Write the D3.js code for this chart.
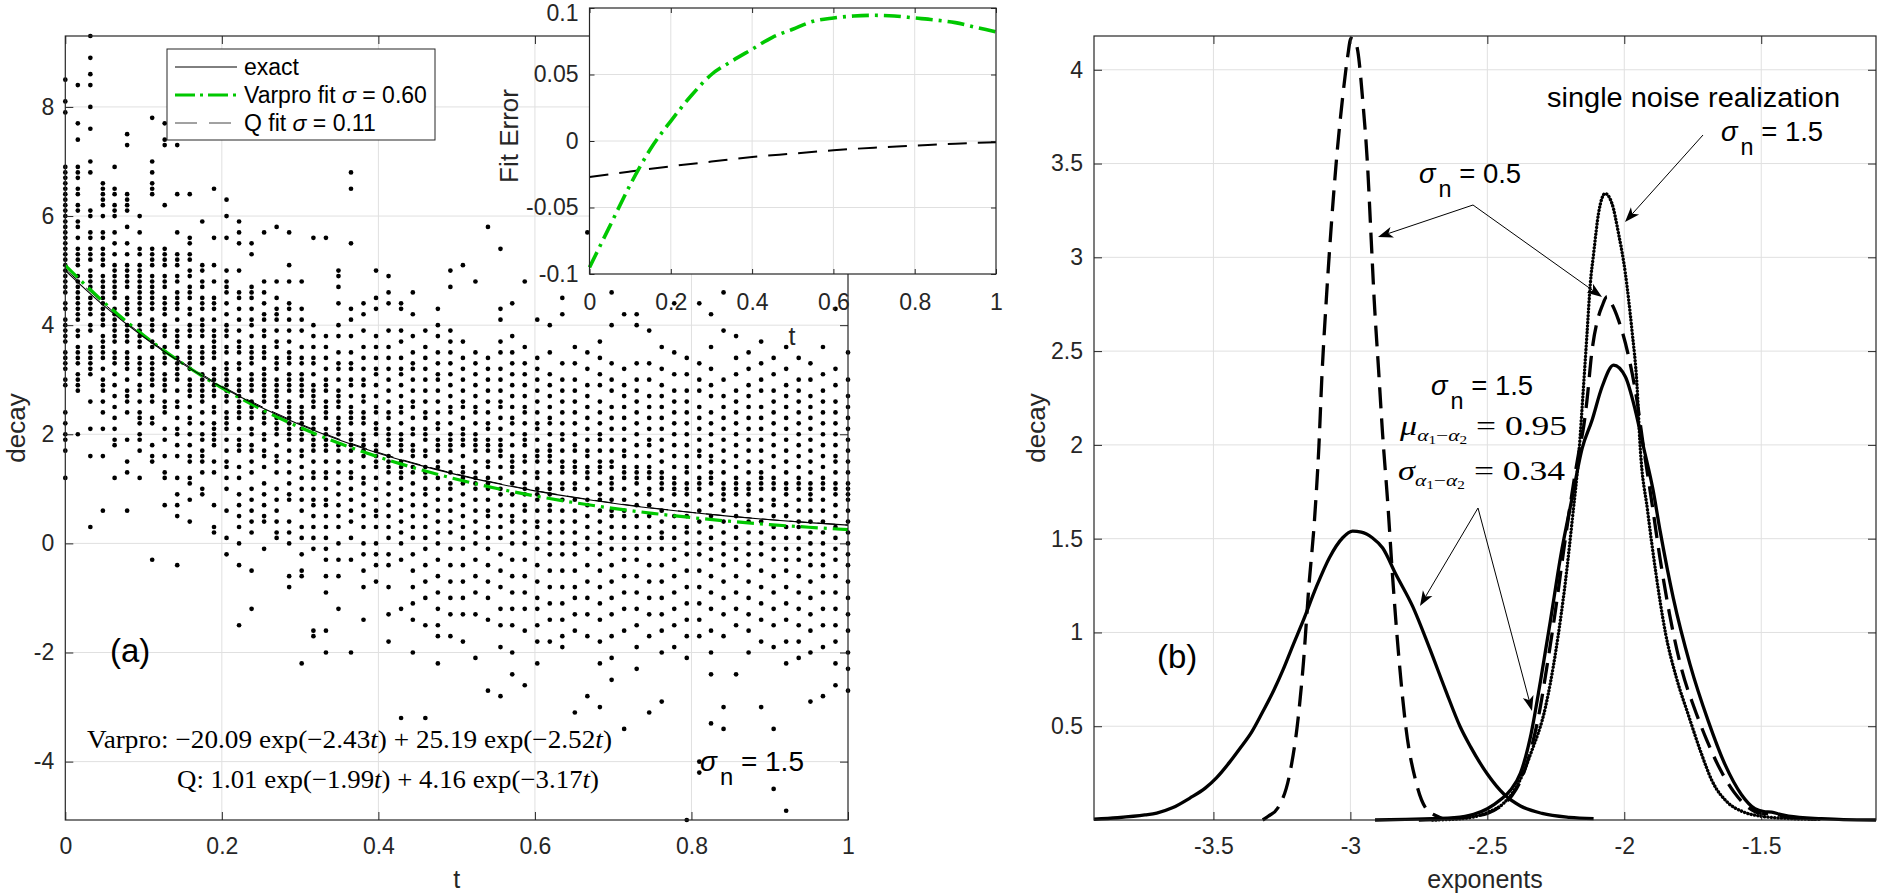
<!DOCTYPE html>
<html><head><meta charset="utf-8">
<script src="https://cdn.jsdelivr.net/npm/d3@7"></script>
<style>
body{margin:0;background:#fff}
svg{display:block}
text{font-family:"Liberation Sans",Arial,Helvetica,sans-serif}
</style></head>
<body><svg id="c" width="1880" height="896"></svg>
<script>
// ---------------- DATA ----------------
const aXTicks = [0, 0.2, 0.4, 0.6, 0.8, 1];
const aYTicks = [-4, -2, 0, 2, 4, 6, 8];
const insetXTicks = [0, 0.2, 0.4, 0.6, 0.8, 1];
const insetYTicks = [-0.1, -0.05, 0, 0.05, 0.1];
const bXTicks = [-3.5, -3, -2.5, -2, -1.5];
const bYTicks = [0.5, 1, 1.5, 2, 2.5, 3, 3.5, 4];

// sample times of the noisy data (columns)
const sampleT = [0,0.016,0.032,0.048,0.063,0.079,0.095,0.111,0.127,0.143,0.159,0.175,0.190,0.206,0.222,0.238,0.254,0.270,0.286,0.302,0.317,0.333,0.349,0.365,0.381,0.397,0.413,0.429,0.444,0.460,0.476,0.492,0.508,0.524,0.540,0.556,0.571,0.587,0.603,0.619,0.635,0.651,0.667,0.683,0.698,0.714,0.730,0.746,0.762,0.778,0.794,0.810,0.825,0.841,0.857,0.873,0.889,0.905,0.921,0.937,0.952,0.968,0.984,1];
// noisy decay values per sample time
const noisyDecay = [
[8.5,8.1,7.9,6.9,6.8,6.7,6.6,6.5,6.4,6.3,6.2,6.1,6.0,5.9,5.8,5.7,5.6,5.5,5.4,5.3,5.2,5.1,5.0,4.9,4.8,4.7,4.6,4.4,4.3,4.1,4.0,3.9,3.8,3.7,3.5,3.4,3.3,3.2,3.0,2.9,2.4,2.2,2.0,1.9,1.7,1.2],
[8.4,7.7,7.4,6.9,6.8,6.7,6.5,6.4,6.2,6.1,5.9,5.8,5.6,5.4,5.3,5.2,5.1,4.9,4.8,4.7,4.6,4.5,4.4,4.3,4.2,4.1,3.9,3.8,3.6,3.5,3.4,3.3,3.1,3.0,2.9,2.8,2.0],
[9.3,8.9,8.6,8.4,8.0,7.6,7.0,6.8,6.1,6.0,5.7,5.6,5.4,5.3,5.2,5.0,4.9,4.8,4.7,4.5,4.4,4.3,4.2,4.0,3.9,3.6,3.5,3.4,3.3,3.2,3.1,2.6,2.1,1.6,0.3],
[6.6,6.5,6.4,6.3,6.2,6.0,5.7,5.6,5.4,5.3,5.2,5.1,4.9,4.8,4.7,4.6,4.5,4.4,4.3,4.2,4.1,4.0,3.8,3.7,3.6,3.5,3.4,3.2,3.0,2.9,2.8,2.6,2.4,2.1,1.6,0.6],
[6.9,6.5,6.4,6.2,6.1,6.0,5.7,5.5,5.3,5.1,5.0,4.9,4.8,4.7,4.6,4.5,4.3,4.2,4.1,4.0,3.9,3.8,3.7,3.5,3.4,3.3,3.1,2.9,2.7,2.5,2.3,2.1,1.9,1.8,1.2],
[7.5,7.3,6.4,6.3,6.2,6.1,5.8,5.5,5.3,5.1,5.0,4.9,4.8,4.7,4.5,4.4,4.3,4.2,4.0,3.9,3.8,3.7,3.5,3.4,3.3,3.2,3.0,2.8,2.7,2.6,2.4,1.9,1.5,1.3,0.6],
[6.0,5.7,5.4,5.3,5.1,5.0,4.9,4.8,4.7,4.6,4.5,4.4,4.3,4.2,4.0,3.9,3.8,3.7,3.6,3.4,3.3,3.2,3.1,2.9,2.8,2.6,2.4,2.3,2.2,2.0,1.9,1.7,1.2],
[7.8,7.0,6.8,6.6,6.5,6.4,5.4,5.3,5.2,5.1,4.9,4.8,4.7,4.6,4.5,4.4,4.3,4.1,4.0,3.9,3.7,3.6,3.4,3.3,3.2,3.1,3.0,2.9,2.7,2.6,2.3,2.2,1.8,1.6,1.5,-0.3],
[7.7,7.4,7.3,6.2,5.4,5.3,5.2,5.1,4.9,4.8,4.7,4.5,4.4,4.3,4.2,4.0,3.9,3.8,3.6,3.5,3.4,3.3,3.1,3.0,2.9,2.8,2.6,2.5,2.4,2.1,1.9,1.6,1.3,1.2,0.7],
[7.3,6.4,5.7,5.3,5.2,5.1,4.9,4.8,4.6,4.5,4.4,4.3,4.1,3.9,3.8,3.7,3.6,3.4,3.3,3.2,3.1,3.0,2.8,2.6,2.5,2.3,2.1,2.0,1.8,1.6,1.2,0.9,0.7,0.5,-0.4],
[6.4,5.6,5.5,5.3,5.2,5.0,4.9,4.7,4.6,4.5,4.3,4.2,4.0,3.9,3.8,3.6,3.5,3.4,3.3,3.2,3.0,2.9,2.8,2.7,2.5,2.3,2.2,2.0,1.8,1.6,1.5,1.2,1.1,0.8,0.4],
[5.9,5.1,5.0,4.8,4.7,4.5,4.4,4.3,4.1,4.0,3.9,3.8,3.6,3.5,3.4,3.3,3.1,3.0,2.9,2.8,2.7,2.6,2.4,2.2,2.0,1.9,1.7,1.6,1.5,1.3,1.0,0.9],
[6.5,5.6,5.1,4.8,4.5,4.4,4.3,4.1,3.9,3.8,3.7,3.6,3.5,3.4,3.2,3.1,3.0,2.9,2.8,2.7,2.5,2.4,2.2,2.1,2.0,1.9,1.8,1.5,1.3,0.7,0.3,0.2],
[6.3,6.0,5.6,5.0,4.8,4.7,4.6,4.4,4.2,4.0,3.9,3.8,3.6,3.5,3.3,3.2,3.1,3.0,2.9,2.8,2.7,2.6,2.4,2.3,2.2,2.1,1.9,1.7,1.5,1.4,1.2,1.0,0.6,0.1,-0.2],
[5.9,5.7,5.5,5.0,4.6,4.5,4.3,4.1,3.9,3.7,3.6,3.5,3.3,3.2,3.0,2.9,2.8,2.7,2.6,2.5,2.4,2.3,2.1,1.9,1.8,1.7,1.4,1.2,0.9,0.7,0.5,0.3,0.0,-0.4,-1.5],
[5.5,5.3,4.7,4.6,4.5,4.3,4.1,4.0,3.8,3.6,3.5,3.4,3.3,3.1,3.0,2.9,2.8,2.6,2.5,2.4,2.3,2.1,2.0,1.8,1.7,1.5,1.3,1.0,0.8,0.6,0.4,0.2,-0.5,-1.2],
[5.7,4.8,4.6,4.4,4.2,4.1,3.9,3.8,3.6,3.5,3.4,3.2,3.1,3.0,2.9,2.8,2.7,2.6,2.4,2.3,2.2,2.0,1.9,1.7,1.6,1.4,1.1,0.9,0.7,0.5,0.4,-0.1],
[5.8,4.8,4.5,4.3,4.2,4.1,3.9,3.7,3.6,3.4,3.3,3.2,3.0,2.9,2.8,2.7,2.6,2.5,2.3,2.2,2.1,2.0,1.8,1.6,1.5,1.3,1.0,0.8,0.6,0.4,0.2,0.1],
[5.7,5.1,4.8,4.4,4.3,4.1,3.9,3.7,3.5,3.4,3.3,3.1,3.0,2.9,2.8,2.6,2.5,2.4,2.3,2.2,2.1,2.0,1.9,1.7,1.5,1.3,1.1,0.9,0.8,0.4,0.2,0.0,-0.6,-0.8],
[4.8,4.3,4.1,3.9,3.6,3.4,3.3,3.1,3.0,2.9,2.8,2.7,2.5,2.4,2.3,2.2,2.1,2.0,1.9,1.7,1.6,1.4,1.2,1.0,0.8,0.6,0.3,0.1,-0.2,-0.5,-0.6,-2.2],
[5.6,4.0,3.8,3.6,3.4,3.3,3.1,2.9,2.8,2.7,2.6,2.5,2.3,2.2,2.1,2.0,1.9,1.8,1.7,1.5,1.3,1.2,1.0,0.8,0.7,0.5,0.3,0.1,-0.1,-1.6,-1.7],
[5.6,3.8,3.6,3.4,3.2,3.0,2.9,2.8,2.6,2.5,2.4,2.3,2.1,2.0,1.9,1.8,1.7,1.5,1.3,1.2,1.0,0.8,0.7,0.5,0.3,0.1,-0.1,-0.3,-0.6,-0.9,-1.6,-2.0],
[5.0,4.9,4.7,4.4,4.0,3.8,3.5,3.3,3.2,3.0,2.8,2.7,2.6,2.5,2.3,2.2,2.1,2.0,1.8,1.7,1.5,1.3,1.1,0.9,0.7,0.5,0.3,0.0,-0.3,-0.6,-1.2],
[6.8,6.5,5.5,4.3,4.1,3.8,3.5,3.3,3.2,3.0,2.9,2.7,2.5,2.4,2.3,2.2,2.0,1.9,1.8,1.7,1.5,1.3,1.2,1.0,0.8,0.6,0.4,0.1,-0.3,-2.0],
[4.4,4.2,3.9,3.6,3.4,3.2,3.0,2.9,2.7,2.6,2.4,2.3,2.2,2.0,1.9,1.8,1.7,1.6,1.4,1.2,1.1,0.9,0.7,0.5,0.3,0.0,-0.2,-0.5,-0.8,-1.4],
[5.0,4.5,4.3,3.8,3.6,3.4,3.2,3.1,2.9,2.7,2.5,2.4,2.2,2.1,2.0,1.8,1.7,1.6,1.5,1.4,1.2,1.0,0.8,0.6,0.5,0.3,0.0,-0.2,-0.4,-0.7],
[4.9,4.6,4.4,3.9,3.6,3.4,3.2,3.0,2.8,2.6,2.4,2.3,2.1,2.0,1.9,1.8,1.6,1.5,1.4,1.3,1.1,0.9,0.7,0.5,0.3,0.1,-0.2,-0.4,-0.8,-1.3,-1.8],
[4.4,4.3,3.9,3.7,3.4,3.2,3.1,2.9,2.7,2.5,2.4,2.2,2.0,1.9,1.8,1.7,1.5,1.4,1.3,1.2,1.0,0.8,0.6,0.4,0.2,0.0,-0.3,-1.2,-3.2],
[4.6,4.2,3.8,3.5,3.3,3.2,3.0,2.8,2.6,2.5,2.3,2.1,2.0,1.8,1.7,1.6,1.4,1.3,1.1,0.9,0.7,0.5,0.3,0.1,-0.2,-0.5,-0.8,-1.1,-1.4,-2.0],
[3.9,3.6,3.4,3.2,3.0,2.8,2.6,2.4,2.3,2.1,2.0,1.9,1.7,1.6,1.4,1.3,1.2,1.0,0.9,0.7,0.5,0.3,0.1,-0.1,-0.4,-0.7,-1.0,-1.5,-3.2],
[4.3,4.0,3.8,3.5,3.3,3.1,3.0,2.8,2.6,2.4,2.2,2.1,1.9,1.8,1.7,1.5,1.4,1.2,1.0,0.8,0.6,0.4,0.2,0.0,-0.3,-0.6,-0.9,-1.2,-1.5,-1.7,-2.2],
[5.0,4.7,3.9,3.7,3.5,3.3,3.1,2.9,2.7,2.5,2.4,2.2,2.0,1.9,1.8,1.7,1.5,1.3,1.1,1.0,0.8,0.6,0.4,0.2,-0.1,-0.4,-0.7,-1.0,-1.3,-1.7],
[5.1,3.7,3.4,3.2,3.0,2.8,2.6,2.5,2.3,2.1,2.0,1.9,1.8,1.6,1.4,1.3,1.2,1.1,0.9,0.7,0.5,0.3,0.1,-0.1,-0.4,-0.7,-1.0,-1.3,-1.8],
[4.8,3.5,3.3,3.1,2.9,2.7,2.5,2.4,2.2,2.0,1.9,1.8,1.7,1.5,1.3,1.2,1.1,1.0,0.8,0.6,0.4,0.2,0.0,-0.3,-0.6,-0.9,-1.3,-2.1],
[5.8,3.4,3.2,3.0,2.8,2.6,2.4,2.2,2.1,1.9,1.8,1.7,1.5,1.4,1.2,1.1,1.0,0.8,0.6,0.5,0.3,0.1,-0.1,-0.4,-0.7,-1.0,-1.4,-2.7],
[5.4,4.3,4.1,3.7,3.5,3.2,3.0,2.8,2.6,2.5,2.3,2.1,1.9,1.8,1.7,1.6,1.4,1.2,1.0,0.9,0.7,0.5,0.3,0.1,-0.2,-0.5,-0.8,-1.2,-1.5,-1.9,-2.8],
[4.4,3.8,3.5,3.3,3.1,2.9,2.7,2.5,2.3,2.2,2.0,1.8,1.6,1.5,1.4,1.3,1.1,0.9,0.7,0.5,0.4,0.2,0.0,-0.3,-0.6,-0.9,-1.2,-1.5,-2.0,-2.4],
[4.8,3.6,3.3,3.1,2.9,2.7,2.5,2.4,2.2,2.0,1.9,1.8,1.6,1.5,1.3,1.1,1.0,0.9,0.7,0.6,0.4,0.2,0.0,-0.3,-0.6,-0.9,-1.2,-1.6,-2.6],
[4.1,3.4,3.2,3.0,2.8,2.6,2.4,2.2,2.1,1.9,1.7,1.6,1.5,1.3,1.2,1.0,0.9,0.8,0.6,0.4,0.3,0.1,-0.1,-0.4,-0.7,-1.0,-1.2,-1.5,-1.8,-2.2],
[4.0,3.5,3.1,2.9,2.7,2.5,2.3,2.2,2.0,1.8,1.7,1.6,1.5,1.3,1.1,1.0,0.9,0.7,0.6,0.4,0.2,0.0,-0.2,-0.5,-0.8,-1.1,-1.4,-1.8],
[4.5,4.2,3.3,3.0,2.8,2.6,2.4,2.2,2.0,1.9,1.7,1.5,1.4,1.3,1.1,1.0,0.8,0.6,0.4,0.2,0.0,-0.2,-0.5,-0.8,-1.1,-1.4,-1.7,-1.9],
[3.6,3.3,3.0,2.8,2.6,2.4,2.2,2.0,1.8,1.7,1.5,1.4,1.3,1.1,1.0,0.8,0.6,0.4,0.2,0.0,-0.2,-0.5,-0.8,-1.0,-1.3,-1.6,-3.1],
[5.7,3.5,3.2,2.9,2.7,2.5,2.3,2.1,1.9,1.7,1.6,1.4,1.3,1.2,1.0,0.8,0.7,0.5,0.3,0.1,-0.1,-0.4,-0.7,-1.0,-1.3,-1.7,-2.8],
[3.7,3.4,3.1,2.9,2.6,2.4,2.2,2.0,1.9,1.7,1.5,1.4,1.3,1.1,0.9,0.8,0.6,0.4,0.2,0.0,-0.2,-0.5,-0.8,-1.1,-1.4,-1.8,-2.2,-3.0],
[4.6,4.0,3.3,3.0,2.8,2.5,2.3,2.1,1.9,1.7,1.5,1.4,1.2,1.1,1.0,0.8,0.6,0.5,0.3,0.1,-0.1,-0.4,-0.7,-1.0,-1.3,-1.7,-2.1,-2.5],
[4.2,3.2,2.9,2.7,2.5,2.3,2.1,1.9,1.7,1.6,1.4,1.3,1.2,1.0,0.8,0.6,0.5,0.3,0.1,-0.1,-0.3,-0.6,-0.9,-1.2,-1.6,-3.4],
[4.2,4.0,3.3,3.0,2.8,2.6,2.4,2.2,2.0,1.8,1.6,1.4,1.3,1.2,1.1,0.9,0.7,0.5,0.3,0.1,-0.1,-0.3,-0.6,-0.9,-1.2,-1.5,-1.9,-2.3],
[3.9,3.3,3.0,2.7,2.5,2.3,2.1,1.9,1.8,1.6,1.4,1.3,1.2,1.0,0.9,0.7,0.5,0.3,0.1,-0.1,-0.4,-0.7,-1.0,-1.3,-1.7,-3.1],
[3.6,3.2,2.9,2.7,2.5,2.3,2.1,1.9,1.7,1.5,1.3,1.2,1.1,1.0,0.8,0.6,0.4,0.2,0.1,-0.1,-0.4,-0.7,-1.0,-1.3,-1.6,-2.0,-2.9],
[4.4,3.5,3.1,2.8,2.6,2.4,2.2,2.0,1.8,1.6,1.4,1.2,1.1,1.0,0.9,0.7,0.5,0.3,0.1,-0.1,-0.3,-0.6,-0.9,-1.2,-1.5,-1.9],
[3.4,3.1,2.8,2.6,2.4,2.2,2.0,1.8,1.6,1.4,1.3,1.1,1.0,0.9,0.7,0.5,0.3,0.2,0.0,-0.2,-0.5,-0.8,-1.1,-1.4,-1.7,-2.1,-5.07],
[4.4,3.3,3.0,2.8,2.5,2.3,2.1,1.9,1.7,1.6,1.4,1.2,1.1,1.0,0.8,0.6,0.4,0.2,0.0,-0.2,-0.5,-0.8,-1.1,-1.4,-1.7,-4.0,-4.2],
[4.2,3.6,3.2,2.9,2.7,2.4,2.2,2.0,1.8,1.6,1.5,1.3,1.2,1.1,0.9,0.7,0.5,0.3,0.1,-0.1,-0.3,-0.6,-0.9,-1.2,-1.6,-2.0,-2.4,-3.3],
[4.6,3.9,3.0,2.7,2.5,2.3,2.1,1.9,1.7,1.5,1.3,1.1,1.0,0.9,0.8,0.6,0.4,0.2,0.0,-0.2,-0.4,-0.7,-1.0,-1.3,-1.7,-3.0,-3.4],
[3.8,3.4,3.1,2.8,2.6,2.4,2.2,2.0,1.8,1.6,1.4,1.2,1.1,1.0,0.9,0.7,0.5,0.3,0.1,-0.1,-0.3,-0.6,-0.9,-1.2,-1.5,-2.4],
[3.5,3.2,2.9,2.7,2.5,2.3,2.1,1.9,1.7,1.5,1.3,1.1,1.0,0.9,0.7,0.6,0.4,0.2,0.0,-0.2,-0.4,-0.7,-1.0,-1.3,-1.6,-2.0],
[3.7,3.3,3.0,2.8,2.5,2.3,2.1,1.9,1.7,1.5,1.3,1.2,1.1,1.0,0.8,0.6,0.4,0.2,0.0,-0.2,-0.5,-0.8,-1.1,-1.4,-1.8,-3.0],
[3.4,3.1,2.8,2.6,2.4,2.2,2.0,1.8,1.6,1.4,1.2,1.1,1.0,0.8,0.7,0.5,0.3,0.1,-0.1,-0.3,-0.6,-0.9,-1.2,-1.5,-1.9,-3.4,-4.5],
[3.6,3.2,2.9,2.7,2.5,2.3,2.1,1.9,1.7,1.5,1.3,1.1,1.0,0.9,0.7,0.5,0.3,0.1,-0.1,-0.3,-0.5,-0.8,-1.1,-1.4,-1.8,-2.2,-4.9],
[3.4,3.0,2.8,2.6,2.4,2.2,2.0,1.8,1.6,1.4,1.2,1.1,1.0,0.8,0.6,0.4,0.3,0.1,-0.1,-0.3,-0.6,-0.9,-1.2,-1.5,-1.8,-2.1],
[3.3,3.0,2.7,2.5,2.3,2.1,1.9,1.7,1.5,1.3,1.1,1.0,0.9,0.8,0.6,0.4,0.2,0.0,-0.2,-0.4,-0.7,-1.0,-1.3,-1.6,-2.0,-2.9],
[3.6,3.1,2.8,2.6,2.4,2.2,2.0,1.8,1.6,1.4,1.2,1.1,1.0,0.8,0.6,0.4,0.2,0.0,-0.2,-0.4,-0.6,-0.9,-1.2,-1.5,-1.9,-2.8],
[4.3,3.2,2.9,2.6,2.4,2.2,2.0,1.8,1.6,1.5,1.3,1.1,1.0,0.9,0.7,0.5,0.3,0.1,-0.1,-0.3,-0.6,-0.9,-1.2,-1.5,-1.8,-2.2,-2.6],
[3.5,3.0,2.7,2.5,2.3,2.1,1.9,1.7,1.5,1.3,1.1,1.0,0.9,0.8,0.6,0.4,0.2,0.0,-0.2,-0.4,-0.7,-1.0,-1.3,-1.6,-2.0,-2.3,-2.7]
];

// fitted curves (main panel)
const curveT = [0,0.05,0.1,0.15,0.2,0.25,0.3,0.35,0.4,0.45,0.5,0.55,0.6,0.65,0.7,0.75,0.8,0.85,0.9,0.95,1];
const exactDecay = [5.000,4.348,3.782,3.291,2.866,2.496,2.175,1.896,1.654,1.444,1.260,1.101,0.962,0.842,0.736,0.645,0.565,0.495,0.434,0.381,0.334];
const varproDecay = [5.095,4.412,3.815,3.297,2.851,2.462,2.125,1.836,1.585,1.366,1.176,1.011,0.870,0.748,0.642,0.551,0.473,0.404,0.345,0.296,0.252];
const qT = [0,0.1,0.2,0.3,0.4,0.5,0.6,0.7,0.8,0.9,1];
const qDecay = [5.027,3.805,2.885,2.191,1.666,1.270,0.969,0.741,0.569,0.436,0.335];
// inset: fit errors
const varproErr = [-0.095,-0.064,-0.033,-0.006,0.015,0.034,0.050,0.060,0.069,0.078,0.084,0.090,0.0925,0.094,0.0945,0.094,0.0925,0.091,0.089,0.0855,0.082];
const qErr = [-0.027,-0.023,-0.019,-0.0155,-0.012,-0.0095,-0.007,-0.005,-0.0035,-0.002,-0.001];

// panel (b) density curves [exponent, density]
const wide15 = [[-3.936,0.004],[-3.85,0.012],[-3.75,0.027],[-3.707,0.037],[-3.65,0.065],[-3.586,0.117],[-3.53,0.17],[-3.489,0.225],[-3.44,0.31],[-3.404,0.38],[-3.36,0.47],[-3.319,0.58],[-3.28,0.69],[-3.246,0.8],[-3.21,0.93],[-3.173,1.06],[-3.125,1.24],[-3.076,1.40],[-3.028,1.505],[-2.992,1.54],[-2.96,1.535],[-2.92,1.505],[-2.882,1.45],[-2.834,1.31],[-2.773,1.14],[-2.712,0.92],[-2.652,0.69],[-2.6,0.5],[-2.561,0.39],[-2.5,0.245],[-2.439,0.137],[-2.379,0.075],[-2.3,0.035],[-2.2,0.014],[-2.112,0.007]];
const tall05 = [[-3.32,0.0],[-3.30,0.02],[-3.265,0.064],[-3.222,0.242],[-3.192,0.526],[-3.171,0.846],[-3.152,1.237],[-3.131,1.6],[-3.115,1.99],[-3.104,2.363],[-3.088,2.772],[-3.070,3.163],[-3.052,3.50],[-3.028,3.856],[-3.01,4.07],[-2.998,4.167],[-2.985,4.16],[-2.973,4.10],[-2.955,3.838],[-2.937,3.482],[-2.925,3.127],[-2.913,2.772],[-2.897,2.4],[-2.882,2.05],[-2.864,1.7],[-2.846,1.3],[-2.822,0.85],[-2.797,0.49],[-2.761,0.206],[-2.725,0.064],[-2.683,0.02],[-2.66,0.005]];
const right15 = [[-2.91,0.0],[-2.8,0.003],[-2.7,0.007],[-2.62,0.012],[-2.55,0.03],[-2.5,0.06],[-2.45,0.11],[-2.415,0.16],[-2.379,0.25],[-2.343,0.44],[-2.306,0.74],[-2.27,1.06],[-2.233,1.4],[-2.19,1.72],[-2.154,1.98],[-2.118,2.13],[-2.081,2.31],[-2.039,2.425],[-1.996,2.363],[-1.96,2.186],[-1.93,1.99],[-1.895,1.76],[-1.869,1.54],[-1.821,1.183],[-1.76,0.83],[-1.693,0.526],[-1.632,0.295],[-1.572,0.135],[-1.523,0.06],[-1.49,0.045],[-1.462,0.042],[-1.43,0.03],[-1.40,0.02],[-1.28,0.007],[-1.2,0.002],[-1.081,0.0]];
const right05 = [[-2.75,0.0],[-2.65,0.006],[-2.55,0.02],[-2.5,0.035],[-2.45,0.075],[-2.41,0.13],[-2.37,0.24],[-2.34,0.38],[-2.312,0.56],[-2.28,0.84],[-2.25,1.13],[-2.22,1.45],[-2.19,1.75],[-2.165,1.97],[-2.148,2.1],[-2.136,2.24],[-2.118,2.5],[-2.095,2.68],[-2.081,2.74],[-2.063,2.79],[-2.045,2.75],[-2.021,2.665],[-1.984,2.47],[-1.954,2.24],[-1.93,1.99],[-1.90,1.70],[-1.87,1.40],[-1.835,1.10],[-1.79,0.80],[-1.745,0.60],[-1.70,0.43],[-1.65,0.27],[-1.60,0.15],[-1.55,0.07],[-1.5,0.035],[-1.45,0.03],[-1.4,0.015],[-1.3,0.004]];
const single15 = [[-2.7,0.0],[-2.6,0.006],[-2.5,0.04],[-2.44,0.09],[-2.385,0.2],[-2.34,0.36],[-2.288,0.6],[-2.25,0.9],[-2.215,1.27],[-2.19,1.6],[-2.166,1.95],[-2.148,2.33],[-2.136,2.594],[-2.124,2.86],[-2.112,3.02],[-2.094,3.234],[-2.07,3.34],[-2.045,3.287],[-2.021,3.127],[-1.996,2.914],[-1.972,2.612],[-1.954,2.328],[-1.942,1.99],[-1.915,1.65],[-1.885,1.32],[-1.85,1.0],[-1.81,0.76],[-1.766,0.56],[-1.72,0.36],[-1.68,0.21],[-1.62,0.09],[-1.57,0.046],[-1.5,0.02],[-1.4,0.008],[-1.28,0.003]];

// ---------------- DRAW ----------------
const svg = d3.select('#c');
const AX = '#262626', GRID = '#e0e0e0', GREEN = '#00c800';
const fmt = d => (d < 0 ? '-' : '') + Math.abs(d);

function drawGrid(g, xs, ys, xt, yt) {
  const [x0, x1] = xs.range(), [y0, y1] = ys.range();
  g.selectAll(null).data(xt).enter().append('line')
    .attr('x1', d => xs(d)).attr('x2', d => xs(d)).attr('y1', y0).attr('y2', y1)
    .attr('stroke', GRID).attr('stroke-width', 1);
  g.selectAll(null).data(yt).enter().append('line')
    .attr('y1', d => ys(d)).attr('y2', d => ys(d)).attr('x1', x0).attr('x2', x1)
    .attr('stroke', GRID).attr('stroke-width', 1);
}
function styleAxis(sel, fs) {
  sel.select('.domain').remove();
  sel.attr('font-size', null).attr('font-family', null);
  sel.selectAll('line').attr('stroke', AX).attr('stroke-width', 1);
  sel.selectAll('text').style('font-size', fs + 'px').attr('fill', AX);
}
function drawAxes(g, xs, ys, xt, yt, tl, padX, padY, fs) {
  const [x0, x1] = xs.range(), [y0, y1] = ys.range();
  g.append('g').attr('transform', `translate(0,${y0})`)
    .call(d3.axisBottom(xs).tickValues(xt).tickSizeInner(-tl).tickSizeOuter(0).tickPadding(padX).tickFormat(fmt))
    .call(s => styleAxis(s, fs));
  g.append('g').attr('transform', `translate(0,${y1})`)
    .call(d3.axisTop(xs).tickValues(xt).tickSizeInner(-tl).tickSizeOuter(0).tickFormat(''))
    .call(s => styleAxis(s, fs));
  const left = g.append('g').attr('transform', `translate(${x0},0)`)
    .call(d3.axisLeft(ys).tickValues(yt).tickSizeInner(-tl).tickSizeOuter(0).tickPadding(padY).tickFormat(fmt))
    .call(s => styleAxis(s, fs));
  g.append('g').attr('transform', `translate(${x1},0)`)
    .call(d3.axisRight(ys).tickValues(yt).tickSizeInner(-tl).tickSizeOuter(0).tickFormat(''))
    .call(s => styleAxis(s, fs));
  g.append('rect').attr('x', x0).attr('y', y1).attr('width', x1 - x0).attr('height', y0 - y1)
    .attr('fill', 'none').attr('stroke', AX).attr('stroke-width', 1.2);
  return left;
}
// rich text: segments {t, fs, it, sh (baseline shift, +down)}
function rich(g, x, y, segs, opts = {}) {
  const t = g.append('text').attr('x', x).attr('y', y).attr('fill', opts.fill || '#000');
  if (opts.serif) t.style('font-family', '"Liberation Serif","Times New Roman",serif');
  if (opts.anchor) t.attr('text-anchor', opts.anchor);
  let prev = 0;
  segs.forEach(s => {
    const sh = s.sh || 0;
    const ts = t.append('tspan').attr('dy', sh - prev).style('font-size', s.fs + 'px')
      .style('font-style', s.it ? 'italic' : 'normal').text(s.t);
    if (s.dx) ts.attr('dx', s.dx);
    prev = sh;
  });
  if (opts.len) t.attr('textLength', opts.len).attr('lengthAdjust', 'spacingAndGlyphs');
  return t;
}
function sigmaN(g, x, y, rest, fs) {
  return rich(g, x, y, [
    {t: 'σ', fs: fs, it: true},
    {t: 'n', fs: fs * 0.85, sh: fs * 0.5, dx: 3},
    {t: ' = ' + rest, fs: fs, sh: 0}
  ]);
}
function arrow(g, x1, y1, x2, y2) {
  const L = 15, W = 5.5, N = 4;
  const dx = x2 - x1, dy = y2 - y1, len = Math.hypot(dx, dy);
  const ux = dx / len, uy = dy / len, nx = -uy, ny = ux;
  const bx = x2 - L * ux, by = y2 - L * uy;
  const mx = x2 - (L - N) * ux, my = y2 - (L - N) * uy;
  g.append('line').attr('x1', x1).attr('y1', y1).attr('x2', mx).attr('y2', my)
    .attr('stroke', '#000').attr('stroke-width', 1);
  g.append('path').attr('d', `M${x2},${y2}L${bx + W * nx},${by + W * ny}L${mx},${my}L${bx - W * nx},${by - W * ny}Z`)
    .attr('fill', '#000');
}

// ===== Panel (a) =====
const ax = d3.scaleLinear().domain([0, 1]).range([65.3, 848]);
const ay = d3.scaleLinear().domain([-5.07, 9.3]).range([820, 36]);
const ga = svg.append('g');
drawGrid(ga, ax, ay, aXTicks.slice(1, -1), aYTicks);

const pts = [];
sampleT.forEach((t, i) => noisyDecay[i].forEach(v => pts.push([t, v])));
ga.append('g').selectAll('circle').data(pts).enter().append('circle')
  .attr('cx', d => ax(d[0])).attr('cy', d => ay(d[1])).attr('r', 2.35).attr('fill', '#000');

const lineA = d3.line().x(d => ax(d[0])).y(d => ay(d[1])).curve(d3.curveMonotoneX);
ga.append('path').attr('d', lineA(qT.map((t, i) => [t, qDecay[i]])))
  .attr('fill', 'none').attr('stroke', '#000').attr('stroke-width', 1).attr('stroke-dasharray', '18,10');
ga.append('path').attr('d', lineA(curveT.map((t, i) => [t, varproDecay[i]])))
  .attr('fill', 'none').attr('stroke', GREEN).attr('stroke-width', 3.2).attr('stroke-dasharray', '17,6,3,6');
ga.append('path').attr('d', lineA(curveT.map((t, i) => [t, exactDecay[i]])))
  .attr('fill', 'none').attr('stroke', '#000').attr('stroke-width', 1.1);

drawAxes(ga, ax, ay, aXTicks, aYTicks, 8, 18, 11, 23);
ga.append('text').attr('x', 456.7).attr('y', 888).attr('text-anchor', 'middle').style('font-size', '25px').attr('fill', AX).text('t');
ga.append('text').attr('transform', 'translate(25,428) rotate(-90)').attr('text-anchor', 'middle').style('font-size', '26px').attr('fill', AX).text('decay');

// legend
const lg = ga.append('g');
lg.append('rect').attr('x', 167).attr('y', 49).attr('width', 268).attr('height', 91).attr('fill', '#fff').attr('stroke', AX).attr('stroke-width', 1);
lg.append('line').attr('x1', 175).attr('x2', 237).attr('y1', 67).attr('y2', 67).attr('stroke', '#000').attr('stroke-width', 1);
lg.append('line').attr('x1', 175).attr('x2', 237).attr('y1', 95).attr('y2', 95).attr('stroke', GREEN).attr('stroke-width', 3.2).attr('stroke-dasharray', '20,5,3,5');
lg.append('line').attr('x1', 175).attr('x2', 237).attr('y1', 123).attr('y2', 123).attr('stroke', '#444').attr('stroke-width', 1).attr('stroke-dasharray', '22,12');
rich(lg, 244, 75, [{t: 'exact', fs: 23}]);
rich(lg, 244, 103, [{t: 'Varpro fit ', fs: 23}, {t: 'σ', fs: 23, it: true}, {t: ' = 0.60', fs: 23}]);
rich(lg, 244, 131, [{t: 'Q fit ', fs: 23}, {t: 'σ', fs: 23, it: true}, {t: ' = 0.11', fs: 23}]);

// annotations (a)
ga.append('text').attr('x', 110).attr('y', 662).style('font-size', '33px').text('(a)');
rich(ga, 87, 748, [
  {t: 'Varpro:  −20.09 exp(−2.43', fs: 26}, {t: 't', fs: 26, it: true},
  {t: ') + 25.19 exp(−2.52', fs: 26}, {t: 't', fs: 26, it: true}, {t: ')', fs: 26}
], {serif: true, len: 525});
rich(ga, 177, 788, [
  {t: 'Q: 1.01 exp(−1.99', fs: 26}, {t: 't', fs: 26, it: true},
  {t: ') + 4.16 exp(−3.17', fs: 26}, {t: 't', fs: 26, it: true}, {t: ')', fs: 26}
], {serif: true, len: 422});
sigmaN(ga, 700, 771, '1.5', 28);

// ===== Inset =====
const ix = d3.scaleLinear().domain([0, 1]).range([589.5, 996]);
const iy = d3.scaleLinear().domain([-0.1, 0.1]).range([274, 8]);
const gi = svg.append('g');
gi.append('rect').attr('x', 589.5).attr('y', 8).attr('width', 996 - 589.5).attr('height', 266).attr('fill', '#fff');
drawGrid(gi, ix, iy, insetXTicks.slice(1, -1), insetYTicks.slice(1, -1));
const lineI = d3.line().x(d => ix(d[0])).y(d => iy(d[1])).curve(d3.curveMonotoneX);
gi.append('path').attr('d', lineI(qT.map((t, i) => [t, qErr[i]])))
  .attr('fill', 'none').attr('stroke', '#000').attr('stroke-width', 2).attr('stroke-dasharray', '19,11');
gi.append('path').attr('d', lineI(curveT.map((t, i) => [t, varproErr[i]])))
  .attr('fill', 'none').attr('stroke', GREEN).attr('stroke-width', 3.6).attr('stroke-dasharray', '17,6,3,6');
const insetLeft = drawAxes(gi, ix, iy, insetXTicks, insetYTicks, 5, 20, 11, 23);
insetLeft.selectAll('.tick').filter(d => d === 0.1).select('text').attr('dy', '0.55em');
gi.append('text').attr('x', 792).attr('y', 345).attr('text-anchor', 'middle').style('font-size', '25px').attr('fill', AX).text('t');
gi.append('text').attr('transform', 'translate(518,136) rotate(-90)').attr('text-anchor', 'middle').style('font-size', '26px').attr('fill', AX).text('Fit Error');

// ===== Panel (b) =====
const bx = d3.scaleLinear().domain([-3.936, -1.081]).range([1094, 1876]);
const by = d3.scaleLinear().domain([0, 4.18]).range([820, 36]);
const gb = svg.append('g');
drawGrid(gb, bx, by, bXTicks, bYTicks);
const lineB = d3.line().x(d => bx(d[0])).y(d => by(d[1])).curve(d3.curveMonotoneX);
gb.append('path').attr('d', lineB(wide15)).attr('fill', 'none').attr('stroke', '#000').attr('stroke-width', 3.3);
gb.append('path').attr('d', lineB(right15)).attr('fill', 'none').attr('stroke', '#000').attr('stroke-width', 3.3);
gb.append('path').attr('d', lineB(tall05)).attr('fill', 'none').attr('stroke', '#000').attr('stroke-width', 3.3).attr('stroke-dasharray', '21,10');
gb.append('path').attr('d', lineB(right05)).attr('fill', 'none').attr('stroke', '#000').attr('stroke-width', 3.3).attr('stroke-dasharray', '21,10');
gb.append('path').attr('d', lineB(single15)).attr('fill', 'none').attr('stroke', '#000').attr('stroke-width', 3.4)
  .attr('stroke-dasharray', '0.1,3.3').attr('stroke-linecap', 'round');
drawAxes(gb, bx, by, bXTicks, bYTicks, 8, 18, 11, 23);
gb.append('text').attr('x', 1485).attr('y', 888).attr('text-anchor', 'middle').style('font-size', '25px').attr('fill', AX).text('exponents');
gb.append('text').attr('transform', 'translate(1045,428) rotate(-90)').attr('text-anchor', 'middle').style('font-size', '26px').attr('fill', AX).text('decay');

// annotations (b)
gb.append('text').attr('x', 1157).attr('y', 668).style('font-size', '33px').text('(b)');
rich(gb, 1547, 107, [{t: 'single noise realization', fs: 27}], {len: 293});
sigmaN(gb, 1721, 141, '1.5', 27.5);
sigmaN(gb, 1419, 183, '0.5', 27.5);
sigmaN(gb, 1431, 395, '1.5', 27.5);
rich(gb, 1400, 435, [
  {t: 'μ', fs: 27, it: true},
  {t: 'α', fs: 17, it: true, sh: 6},
  {t: '1', fs: 12, sh: 9},
  {t: '−', fs: 17, sh: 6},
  {t: 'α', fs: 17, it: true, sh: 6},
  {t: '2', fs: 12, sh: 9},
  {t: ' = 0.95', fs: 28, sh: 0}
], {serif: true, len: 167});
rich(gb, 1398, 480, [
  {t: 'σ', fs: 27, it: true},
  {t: 'α', fs: 17, it: true, sh: 6},
  {t: '1', fs: 12, sh: 9},
  {t: '−', fs: 17, sh: 6},
  {t: 'α', fs: 17, it: true, sh: 6},
  {t: '2', fs: 12, sh: 9},
  {t: ' = 0.34', fs: 28, sh: 0}
], {serif: true, len: 167});
arrow(gb, 1473, 205, 1378, 237);
arrow(gb, 1473, 205, 1602, 297);
arrow(gb, 1703, 135, 1625, 222);
arrow(gb, 1478, 508, 1420, 606);
arrow(gb, 1478, 508, 1532, 711);
</script></body></html>
